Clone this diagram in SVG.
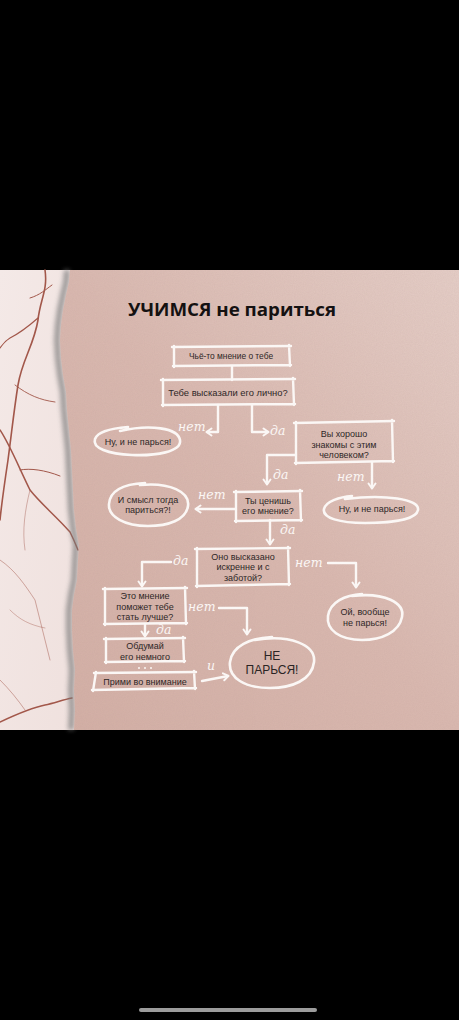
<svg xmlns="http://www.w3.org/2000/svg" width="459" height="1020" viewBox="0 0 459 1020">
<defs>
<style>
.box{fill:none;stroke:#fbf7f5;stroke-width:2.4;stroke-linecap:round;stroke-linejoin:round}
.ell{fill:none;stroke:#fbf7f5;stroke-width:2.6;stroke-linecap:round}
.con{fill:none;stroke:#fbf7f5;stroke-width:2.4;stroke-linecap:round;stroke-linejoin:round}
.t{font-family:"Liberation Sans","Open Sans",sans-serif;font-size:9px;fill:#2e2727;text-anchor:middle}
.lbl{font-family:"DejaVu Serif","Liberation Serif",serif;font-style:italic;font-size:12.5px;fill:#fbf7f5}
.vein{fill:none;stroke:#a2574a;stroke-linecap:round;stroke-linejoin:round}
</style>
<marker id="ah" markerUnits="userSpaceOnUse" markerWidth="10" markerHeight="10" refX="6" refY="5" orient="auto">
<path d="M1.5,1.5 L6.5,5 L1.5,8.5" fill="none" stroke="#fbf7f5" stroke-width="2" stroke-linecap="round" stroke-linejoin="round"/>
</marker>
<linearGradient id="paper" x1="0" y1="1" x2="1" y2="0">
<stop offset="0" stop-color="#d4b0a6"/>
<stop offset="0.5" stop-color="#dab9b0"/>
<stop offset="1" stop-color="#e6cfc8"/>
</linearGradient>
<linearGradient id="marble" x1="0" y1="0" x2="1" y2="1">
<stop offset="0" stop-color="#f4e9e7"/>
<stop offset="1" stop-color="#efe0dd"/>
</linearGradient>
<filter id="grain" x="0" y="0" width="100%" height="100%">
<feTurbulence type="fractalNoise" baseFrequency="0.9" numOctaves="2" seed="4" result="n"/>
<feColorMatrix type="matrix" values="0 0 0 0 0.45  0 0 0 0 0.3  0 0 0 0 0.28  0 0 0 0.35 0" in="n"/>
</filter>
<filter id="blur" x="-50%" y="-5%" width="200%" height="110%">
<feGaussianBlur stdDeviation="2.5"/>
</filter>
<clipPath id="paperclip">
<path d="M70,270 L459,270 L459,730 L74,730 L75,710 L74,690 L75,670 L73,650 L72,630 L72,610 L74,595 L77,580 L78,560 L79,545 L76,528 L74,510 L73,490 L72,470 L71,450 L69,430 L67,410 L66,392 L63,375 L61,358 L60,340 L61,325 L63,310 L66,295 L69,282 Z"/>
</clipPath>
</defs>

<rect x="0" y="0" width="459" height="1020" fill="#000"/>

<!-- marble -->
<g id="marble-bg">
<rect x="0" y="270" width="90" height="460" fill="url(#marble)"/>
<path class="vein" stroke-width="1.6" d="M45,270 C48,290 40,300 38,320 C34,345 22,360 18,385 C14,410 12,430 8,460 C5,480 2,500 0,520"/>
<path class="vein" stroke-width="1.2" d="M38,318 C30,325 22,332 10,338 C5,341 2,345 0,348"/>
<path class="vein" stroke-width="1" d="M52,285 C45,290 40,295 30,298"/>
<path class="vein" stroke-width="1.5" d="M0,430 C10,445 20,470 30,490 C42,505 55,515 70,532 C73,538 76,545 78,550"/>
<path class="vein" stroke-width="1" d="M20,470 C30,468 45,470 60,476"/>
<path class="vein" stroke-width="0.9" d="M15,385 C28,395 40,400 55,402"/>
<path class="vein" stroke-width="0.8" d="M0,560 C15,570 25,585 35,600 C40,620 45,640 50,660" opacity="0.6"/>
<path class="vein" stroke-width="0.8" d="M10,610 C20,620 30,625 45,628" opacity="0.5"/>
<path class="vein" stroke-width="1.5" d="M0,722 C15,715 30,708 45,705 C55,703 62,700 72,698"/>
<path class="vein" stroke-width="0.8" d="M0,680 C10,690 18,700 25,710" opacity="0.6"/>
<path class="vein" stroke-width="0.7" d="M30,490 C25,510 22,530 25,550" opacity="0.6"/>
</g>

<!-- torn edge shadow -->
<path d="M70,270 L69,282 L66,295 L63,310 L61,325 L60,340 L61,358 L63,375 L66,392 L67,410 L69,430 L71,450 L72,470 L73,490 L74,510 L76,528 L79,545 L78,560 L77,580 L74,595 L72,610 L72,630 L73,650 L75,670 L74,690 L75,710 L74,730" fill="none" stroke="#7a7a7a" stroke-width="5" filter="url(#blur)" transform="translate(-3,0)" opacity="0.85"/>

<!-- paper -->
<g clip-path="url(#paperclip)">
<rect x="55" y="270" width="404" height="460" fill="url(#paper)"/>
<rect x="55" y="270" width="404" height="460" filter="url(#grain)" opacity="0.5"/>
</g>

<!-- title -->
<text x="128" y="316" textLength="208" lengthAdjust="spacingAndGlyphs" style="font-family:'Open Sans','Liberation Sans',sans-serif;font-weight:700;font-size:18px;fill:#141111">УЧИМСЯ не париться</text>

<!-- connectors -->
<g id="connectors">
<path class="con" d="M232,366 L232,380"/>
<path class="con" d="M218,405 L218,432 L207,432" marker-end="url(#ah)"/>
<path class="con" d="M252,405 L252,432 L268,432" marker-end="url(#ah)"/>
<path class="con" d="M295,455 L267,455 L267,484" marker-end="url(#ah)"/>
<path class="con" d="M372,462 L372,488" marker-end="url(#ah)"/>
<path class="con" d="M235,509 L196,509" marker-end="url(#ah)"/>
<path class="con" d="M270,520 L270,544" marker-end="url(#ah)"/>
<path class="con" d="M171,562 L142,562 L142,586" marker-end="url(#ah)"/>
<path class="con" d="M328,563 L356,563 L356,587" marker-end="url(#ah)"/>
<path class="con" d="M219,608 L247,608 L247,634" marker-end="url(#ah)"/>
<path class="con" d="M145,624 L145,636" marker-end="url(#ah)"/>
<path class="con" d="M202,681 L228,676" marker-end="url(#ah)"/>
<text class="lbl" x="178" y="431">нет</text>
<text class="lbl" x="270" y="435">да</text>
<text class="lbl" x="273" y="479">да</text>
<text class="lbl" x="337" y="481">нет</text>
<text class="lbl" x="198" y="499">нет</text>
<text class="lbl" x="280" y="534">да</text>
<text class="lbl" x="173" y="565">да</text>
<text class="lbl" x="295" y="567">нет</text>
<text class="lbl" x="188" y="611">нет</text>
<text class="lbl" x="156" y="634">да</text>
<text class="lbl" x="207" y="670">и</text>
<g fill="#fbf7f5"><circle cx="139" cy="668" r="1"/><circle cx="145" cy="668" r="1"/><circle cx="151" cy="668" r="1"/></g>
</g>

<!-- nodes -->
<g id="n1">
<path class="box" d="M172,347 L291,346 M289,345 L290,366 M291,365 L173,366 M174,367 L174,346"/>
<text class="t" x="231" y="359" style="font-size:8.4px">Чьё-то мнение о тебе</text>
</g>
<g id="n2">
<path class="box" d="M161,380 L295,379 M293,378 L294,405 M295,404 L162,405 M163,406 L163,379"/>
<text class="t" x="228" y="395.5" style="font-size:9.4px">Тебе высказали его лично?</text>
</g>
<g id="n3">
<path class="ell" d="M120,431 C150,424 178,428 180,440 C182,452 155,456 132,455 C108,454 92,448 95,439 C98,431 115,428 128,427"/>
<text class="t" x="138" y="444.5">Ну, и не парься!</text>
</g>
<g id="n4">
<path class="box" d="M294,423 L394,421 M392,420 L393,462 M394,461 L295,463 M296,464 L296,422"/>
<text class="t" x="344" y="437">Вы хорошо</text>
<text class="t" x="344" y="447.5">знакомы с этим</text>
<text class="t" x="344" y="458">человеком?</text>
</g>
<g id="n5">
<path class="ell" d="M345,499 C385,494 420,499 418,510 C416,521 385,523 365,523 C340,523 322,518 324,509 C326,501 340,497 352,496"/>
<text class="t" x="372" y="512">Ну, и не парься!</text>
</g>
<g id="n6">
<path class="box" d="M234,492 L302,491 M300,490 L301,521 M302,520 L235,521 M236,522 L236,491"/>
<text class="t" x="268" y="503.5">Ты ценишь</text>
<text class="t" x="268" y="514">его мнение?</text>
</g>
<g id="n7">
<path class="ell" d="M140,485 C170,482 190,492 188,506 C186,520 168,526 148,526 C125,526 108,517 109,504 C110,490 125,484 145,483"/>
<text class="t" x="148" y="502.5">И смысл тогда</text>
<text class="t" x="148" y="513">париться?!</text>
</g>
<g id="n8">
<path class="box" d="M195,549 L290,548 M288,547 L289,585 M290,584 L196,586 M197,587 L197,548"/>
<text class="t" x="243" y="559.5">Оно высказано</text>
<text class="t" x="243" y="570">искренне и с</text>
<text class="t" x="243" y="580.5">заботой?</text>
</g>
<g id="n9">
<path class="ell" d="M352,596 C385,592 405,603 402,617 C399,632 382,640 362,640 C340,640 326,630 328,616 C330,602 345,595 362,594"/>
<text class="t" x="365" y="614.5">Ой, вообще</text>
<text class="t" x="365" y="625.5">не парься!</text>
</g>
<g id="n10">
<path class="box" d="M103,589 L187,588 M185,587 L186,624 M187,623 L104,624 M105,625 L105,588"/>
<text class="t" x="145" y="599">Это мнение</text>
<text class="t" x="145" y="609.5">поможет тебе</text>
<text class="t" x="145" y="620">стать лучше?</text>
</g>
<g id="n11">
<path class="box" d="M104,639 L185,638 M183,637 L184,662 M185,661 L105,662 M106,663 L106,638"/>
<text class="t" x="145" y="649">Обдумай</text>
<text class="t" x="145" y="659.5">его немного</text>
</g>
<g id="n12">
<path class="box" d="M94,673 L196,672 M194,671 L195,689 M196,688 L92,690 M93,691 L96,672"/>
<text class="t" x="145" y="684.5">Прими во внимание</text>
</g>
<g id="n13">
<path class="ell" d="M255,640 C290,634 316,645 314,662 C312,680 292,688 270,688 C245,688 228,678 230,662 C232,646 250,638 272,637"/>
<text class="t" x="272" y="660" style="font-size:12px;fill:#2a2424">НЕ</text>
<text class="t" x="272" y="674" style="font-size:12px;fill:#2a2424">ПАРЬСЯ!</text>
</g>

<!-- home indicator -->
<rect x="139" y="1008" width="178" height="4" rx="2" fill="#9c9c9c"/>
</svg>
